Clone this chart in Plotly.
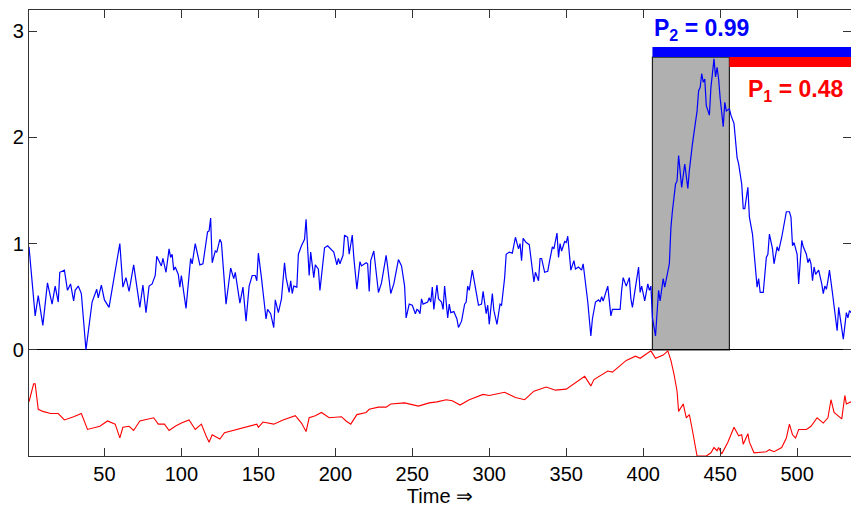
import plotly.graph_objects as go

# ---- data ----
blue_t = [1,5,7,10,13,14,16,18,20,21,24,26,28,30,31,33,35,38,42,45,46,48,50,53,57,60,62,64,66,67,69,73,75,77,79,81,83,84,87,88,90,92,93,94,95,96,98,99,100,103,106,107,109,112,114,117,118,119,120,122,123,125,126,129,132,134,135,138,140,142,144,146,148,149,150,152,155,156,158,160,161,163,165,167,168,170,171,172,173,175,176,178,180,181,182,183,184,186,187,189,190,193,195,197,199,201,202,203,205,206,208,209,211,212,214,216,217,220,221,222,223,225,228,230,233,234,236,238,241,243,245,246,248,250,252,253,254,255,256,257,260,261,262,263,264,266,267,269,270,271,273,274,275,277,279,280,282,284,285,286,287,289,291,293,295,296,298,299,300,302,303,305,307,308,310,311,313,315,317,319,320,321,322,324,326,327,329,330,332,333,334,336,338,339,341,342,344,345,346,347,349,350,351,353,355,356,358,360,361,364,366,367,369,371,372,373,374,377,379,380,382,385,386,387,389,391,392,393,395,397,398,399,401,403,404,405,406,408,410,411,413,414,417,418,419,421,422,423,425,426,427,429,430,432,434,435,436,437,438,439,440,441,443,444,446,447,448,449,450,452,453,454,456,457,459,461,462,464,465,466,468,469,471,472,474,475,476,478,480,481,482,484,485,487,488,490,491,493,495,496,497,498,500,501,503,504,506,507,508,509,510,511,512,514,516,517,518,519,520,521,523,524,526,527,528,529,530,532,533,534,535]
blue_v = [0.97,0.32,0.51,0.23,0.63,0.57,0.43,0.60,0.45,0.73,0.75,0.56,0.62,0.46,0.56,0.60,0.53,0.00,0.45,0.57,0.49,0.61,0.47,0.40,0.75,1.00,0.59,0.68,0.55,0.64,0.80,0.40,0.61,0.35,0.60,0.62,0.70,0.88,0.79,0.86,0.73,0.95,0.87,0.90,0.75,0.78,0.71,0.59,0.70,0.39,0.86,0.81,1.00,0.80,0.81,1.11,1.12,1.24,0.82,0.93,0.92,1.04,1.01,0.43,0.77,0.67,0.73,0.44,0.59,0.27,0.60,0.70,0.70,0.65,0.91,0.68,0.29,0.38,0.34,0.21,0.47,0.35,0.48,0.82,0.68,0.54,0.65,0.53,0.60,0.59,0.90,0.98,1.04,1.23,0.97,0.70,0.92,0.68,0.80,0.76,0.56,0.96,0.98,0.95,0.92,0.80,0.86,0.81,0.89,1.08,1.06,0.90,1.08,0.87,0.57,0.83,0.79,0.82,0.81,0.55,0.84,0.93,0.54,0.63,0.89,0.78,0.53,0.62,0.85,0.79,0.60,0.30,0.43,0.42,0.34,0.38,0.37,0.34,0.48,0.43,0.45,0.49,0.45,0.59,0.38,0.61,0.48,0.45,0.38,0.60,0.30,0.43,0.35,0.36,0.29,0.21,0.27,0.43,0.45,0.60,0.56,0.75,0.60,0.42,0.43,0.55,0.34,0.42,0.24,0.53,0.37,0.24,0.43,0.42,0.68,0.90,0.92,0.91,1.06,0.95,1.00,0.84,1.05,1.01,0.99,0.86,0.64,0.73,0.65,0.86,0.86,0.73,0.74,0.82,0.97,0.95,1.10,0.87,1.00,0.93,1.02,1.01,1.07,0.75,0.84,0.76,0.78,0.75,0.81,0.45,0.13,0.29,0.45,0.47,0.45,0.50,0.46,0.60,0.32,0.38,0.38,0.38,0.56,0.68,0.60,0.68,0.48,0.40,0.59,0.78,0.54,0.60,0.46,0.62,0.56,0.60,0.30,0.13,0.56,0.46,0.67,0.59,0.81,1.15,1.31,1.56,1.59,1.83,1.53,1.67,1.75,1.52,1.69,1.94,2.16,2.25,2.44,2.47,2.60,2.52,2.55,2.30,2.21,2.47,2.74,2.57,2.66,2.55,2.37,2.10,2.33,2.25,2.27,2.21,2.13,1.81,1.75,1.56,1.33,1.33,1.53,1.25,1.09,0.90,0.59,0.67,0.54,0.54,0.87,0.90,1.09,0.95,0.81,0.97,0.93,1.06,1.15,1.30,1.30,1.25,0.98,1.01,0.90,0.62,1.03,0.97,0.90,0.82,0.86,0.81,0.65,0.78,0.71,0.75,0.62,0.53,0.60,0.57,0.65,0.75,0.53,0.40,0.18,0.40,0.29,0.21,0.10,0.35,0.30,0.37,0.35]

red_t = [1,4,5,7,10,15,20,24,30,35,39,47,52,57,60,62,66,69,73,82,85,89,92,96,100,105,109,113,116,118,120,125,128,138,149,150,153,160,166,174,178,181,183,187,191,196,204,207,210,214,220,222,228,233,236,245,254,261,266,272,276,281,287,296,300,310,317,323,329,337,343,350,356,362,366,368,377,380,389,395,398,405,408,413,416,418,420,422,423,426,428,430,432,435,441,444,446,448,449,451,455,459,462,464,465,468,469,472,480,482,485,490,493,495,497,499,501,506,509,513,517,520,522,524,529,531,532,535]
red_v = [-0.49,-0.32,-0.32,-0.56,-0.58,-0.60,-0.60,-0.66,-0.63,-0.60,-0.75,-0.72,-0.67,-0.70,-0.83,-0.73,-0.72,-0.76,-0.67,-0.64,-0.70,-0.70,-0.76,-0.72,-0.69,-0.66,-0.75,-0.70,-0.81,-0.87,-0.80,-0.84,-0.78,-0.74,-0.70,-0.73,-0.68,-0.70,-0.66,-0.62,-0.69,-0.77,-0.64,-0.62,-0.59,-0.64,-0.63,-0.67,-0.70,-0.61,-0.59,-0.56,-0.54,-0.54,-0.51,-0.50,-0.53,-0.50,-0.49,-0.47,-0.48,-0.52,-0.47,-0.42,-0.43,-0.40,-0.45,-0.47,-0.39,-0.35,-0.38,-0.37,-0.31,-0.25,-0.34,-0.28,-0.20,-0.21,-0.10,-0.06,-0.08,-0.01,-0.08,-0.05,-0.01,-0.10,-0.23,-0.39,-0.58,-0.51,-0.64,-0.61,-0.76,-1.00,-1.00,-0.97,-0.92,-0.95,-0.92,-0.98,-0.87,-0.73,-0.81,-0.80,-0.89,-0.79,-0.87,-0.97,-0.96,-0.94,-0.96,-0.92,-0.83,-0.70,-0.80,-0.83,-0.75,-0.75,-0.72,-0.64,-0.69,-0.64,-0.47,-0.59,-0.65,-0.43,-0.51,-0.49]

x_ticks = [50, 100, 150, 200, 250, 300, 350, 400, 450, 500]
y_ticks = [0, 1, 2, 3]
x_range = [1, 535]
y_range = [-1.0, 3.2]

window = [406, 456]          # shaded interval
p2_bar = [406, 535, 2.757, 2.852]
p1_bar = [456, 535, 2.663, 2.757]
p2_label = "<b>P<sub>2</sub> = 0.99</b>"
p1_label = "<b>P<sub>1</sub> = 0.48</b>"

FONT = "Liberation Sans, Arial, Helvetica, sans-serif"

fig = go.Figure()
fig.add_trace(go.Scatter(x=red_t, y=red_v, mode="lines",
                         line=dict(color="#ff0000", width=1.1), showlegend=False))
fig.add_trace(go.Scatter(x=blue_t, y=blue_v, mode="lines",
                         line=dict(color="#0000ff", width=1.2), showlegend=False))

fig.add_shape(type="rect", x0=window[0], x1=window[1], y0=0, y1=p1_bar[3],
              fillcolor="#b0b0b0", line=dict(color="#222222", width=1.2), layer="below")
fig.add_shape(type="rect", x0=p2_bar[0], x1=p2_bar[1], y0=p2_bar[2], y1=p2_bar[3],
              fillcolor="#0000ff", line=dict(width=0), layer="above")
fig.add_shape(type="rect", x0=p1_bar[0], x1=p1_bar[1], y0=p1_bar[2], y1=p1_bar[3],
              fillcolor="#ff0000", line=dict(width=0), layer="above")

fig.add_annotation(x=window[0], y=p2_bar[3], text=p2_label, showarrow=False,
                   xanchor="left", yanchor="bottom", xshift=0, yshift=1,
                   font=dict(family=FONT, size=23, color="#0000ff"))
fig.add_annotation(x=window[1], y=p1_bar[2], text=p1_label, showarrow=False,
                   xanchor="left", yanchor="top", xshift=17, yshift=-7,
                   font=dict(family=FONT, size=23, color="#ff0000"))

fig.update_layout(
    width=851, height=512,
    margin=dict(l=29, r=0, t=10, b=56),
    paper_bgcolor="white", plot_bgcolor="white",
    font=dict(family=FONT, size=20, color="black"),
    xaxis=dict(range=x_range, tickvals=x_ticks, ticks="inside", ticklen=8,
               tickcolor="#333333", showline=True, linecolor="#333333", linewidth=1.2,
               mirror="ticks", showgrid=False, zeroline=False,
               tickfont=dict(size=20, family=FONT),
               title=dict(text="Time ⇒", font=dict(size=20, family=FONT), standoff=4)),
    yaxis=dict(range=y_range, tickvals=y_ticks, ticks="inside", ticklen=8,
               tickcolor="#333333", showline=True, linecolor="#333333", linewidth=1.2,
               mirror="ticks", showgrid=False, zeroline=True, zerolinecolor="black",
               zerolinewidth=1.2, tickfont=dict(size=20, family=FONT)),
)

fig.write_html("out.html")
